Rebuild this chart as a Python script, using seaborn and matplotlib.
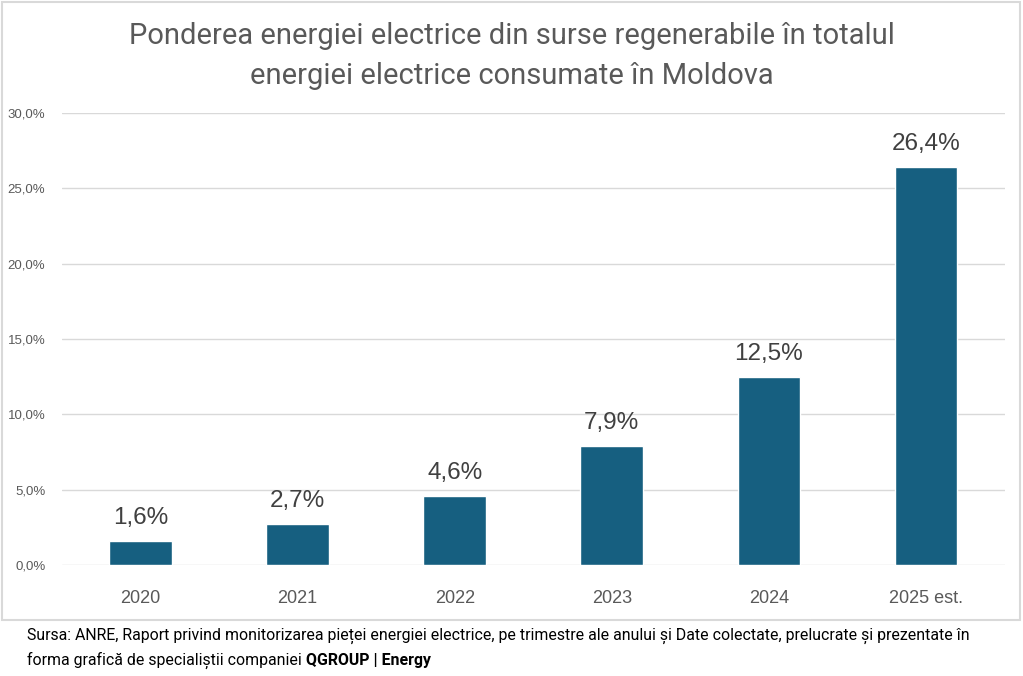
import matplotlib
matplotlib.use("Agg")
import matplotlib.pyplot as plt
import seaborn as sns
import pandas as pd
from matplotlib.patches import Rectangle
from matplotlib import font_manager

# date
ani = ["2020", "2021", "2022", "2023", "2024", "2025 est."]
ponderi = [1.6, 2.7, 4.6, 7.9, 12.5, 26.4]
etichete_y = ["0,0%", "5,0%", "10,0%", "15,0%", "20,0%", "25,0%", "30,0%"]

titlu = "Ponderea energiei electrice din surse regenerabile în totalul\nenergiei electrice consumate în Moldova"

sns.set_theme(style="white")
plt.rcParams['font.family'] = ['Liberation Sans', 'DejaVu Sans']

nume_fonturi = {f.name for f in font_manager.fontManager.ttflist}
font_ingust = 'Liberation Sans Narrow' if 'Liberation Sans Narrow' in nume_fonturi else 'Roboto'

df = pd.DataFrame({"an": ani, "pondere": ponderi})

fig = plt.figure(figsize=(10.23, 6.76), dpi=100)
ax = fig.add_axes([0.0606, 0.164, 0.9214, 0.669])

sns.barplot(data=df, x="an", y="pondere", color="#165f80", width=0.4,
            saturation=1, ax=ax, zorder=3)

ax.set_ylim(0, 30)
ax.set_yticks(range(0, 31, 5))
ax.set_yticklabels(etichete_y, fontsize=9.5, color="#595959")
ax.tick_params(axis="y", length=0, pad=12)
ax.tick_params(axis="x", length=0, pad=18, labelsize=13, labelcolor="#595959")
ax.grid(axis="y", color="#d9d9d9", linewidth=1, zorder=0)
ax.set_xlabel("")
ax.set_ylabel("")
for s in ax.spines.values():
    s.set_visible(False)

for i, v in enumerate(ponderi):
    ax.text(i, v + 0.8, f"{v:.1f}%".replace(".", ","), ha="center", va="bottom",
            fontsize=17.5, color="#404040")

fig.text(0.5, 1 - 56 / 676, titlu, ha="center", va="center", fontsize=21,
         color="#595959", family=font_ingust, linespacing=1.5)

# chenarul graficului
fig.patches.append(Rectangle((2 / 1023, 1 - 620 / 676), 1018 / 1023, 618 / 676,
                             transform=fig.transFigure, fill=False,
                             edgecolor="#d9d9d9", linewidth=1.5))

fig.text(27 / 1023, 1 - 636 / 676,
         "Sursa: ANRE, Raport privind monitorizarea pieței energiei electrice, pe trimestre ale anului și Date colectate, prelucrate și prezentate în",
         ha="left", va="center", fontsize=11.4, color="#000000", family=font_ingust)
t = fig.text(27 / 1023, 1 - 660 / 676,
             "forma grafică de specialiștii companiei ",
             ha="left", va="center", fontsize=11.4, color="#000000", family=font_ingust)
fig.canvas.draw()
bb = t.get_window_extent()
fig.text(bb.x1 / fig.bbox.width, 1 - 660 / 676, "QGROUP | Energy",
         ha="left", va="center", fontsize=11.4, color="#000000",
         family=font_ingust, fontweight="bold")

fig.savefig("out.png", dpi=100)
